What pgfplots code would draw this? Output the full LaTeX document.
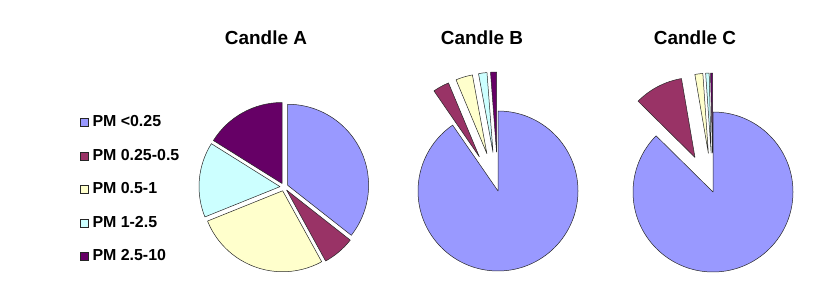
\documentclass[border=0pt]{standalone}
\usepackage{pgfplots}
\pgfplotsset{compat=1.18}
\usepackage{pgfplotstable}
\usepackage{fontspec}
\setmainfont{Liberation Sans}
\definecolor{c0}{HTML}{9999FF}
\definecolor{c1}{HTML}{993366}
\definecolor{c2}{HTML}{FFFFCC}
\definecolor{c3}{HTML}{CCFFFF}
\definecolor{c4}{HTML}{660066}

% share in percent, explode distance (bp)
\pgfplotstableread{
share explode
35.6 4
6.4 4
26.9 4
15.0 4
16.1 4
}\candleA
\pgfplotstableread{
share explode
90.4 0
3.3 39
3.4 39
1.7 39
1.2 39
}\candleB
\pgfplotstableread{
share explode
87.4 0
9.9 39
1.6 39
0.7 39
0.4 39
}\candleC

\newcommand\drawpie[2]{%
  \pgfplotstablegetrowsof{#1}%
  \pgfmathtruncatemacro\lastrow{\pgfplotsretval-1}%
  \gdef\cumsum{0}%
  \foreach \i in {0,...,\lastrow}{%
    \pgfplotstablegetelem{\i}{share}\of{#1}\let\sh\pgfplotsretval
    \pgfplotstablegetelem{\i}{explode}\of{#1}\let\ex\pgfplotsretval
    \pgfmathsetmacro\sa{90-3.6*\cumsum}%
    \pgfmathsetmacro\ea{90-3.6*(\cumsum+\sh)}%
    \pgfmathsetmacro\ma{(\sa+\ea)/2}%
    \pgfmathsetmacro\newsum{\cumsum+\sh}%
    \global\let\cumsum\newsum
    \filldraw[fill=c\i, draw=black!85, line width=0.5bp, line join=round]
      ([shift={(\ma:\ex bp)}]axis cs:0,0) -- ++(\sa:#2bp)
      arc[start angle=\sa, end angle=\ea, radius=#2bp] -- cycle;
  }%
}

\pgfplotsset{pieaxis/.style={
  anchor=center, width=200bp, height=200bp, scale only axis,
  xmin=-100, xmax=100, ymin=-100, ymax=100, hide axis, clip=false,
  title style={at={(0.5,0.5)}, anchor=center,
    font=\bfseries\fontsize{19}{21}\selectfont},
}}

\begin{document}
\begin{tikzpicture}
\path[use as bounding box] (0,0) rectangle (820bp,305bp);
\begin{axis}[pieaxis, at={(284bp,118bp)},
  title={Candle A}, title style={xshift=-18bp, yshift=143bp},
  legend image code/.code={\draw[#1] (0bp,-4bp) rectangle (8bp,4bp);},
  legend style={at={(-0.52,0.865)}, anchor=north west, draw=none, fill=none,
    inner sep=0pt, outer sep=0pt, row sep=16.5bp,
    font=\bfseries\fontsize{16}{18}\selectfont,
    nodes={inner sep=1bp, text height=12bp, text depth=3bp, anchor=west},
    /tikz/every odd column/.append style={column sep=3bp}},
  legend cell align=left]
\addlegendimage{fill=c0, draw=black!85, line width=0.5bp}
\addlegendentry{PM <0.25}
\addlegendimage{fill=c1, draw=black!85, line width=0.5bp}
\addlegendentry{PM 0.25-0.5}
\addlegendimage{fill=c2, draw=black!85, line width=0.5bp}
\addlegendentry{PM 0.5-1}
\addlegendimage{fill=c3, draw=black!85, line width=0.5bp}
\addlegendentry{PM 1-2.5}
\addlegendimage{fill=c4, draw=black!85, line width=0.5bp}
\addlegendentry{PM 2.5-10}
\pgfplotsextra{\drawpie{\candleA}{81}}
\end{axis}
\begin{axis}[pieaxis, at={(498bp,114bp)},
  title={Candle B}, title style={xshift=-16bp, yshift=147bp}]
\pgfplotsextra{\drawpie{\candleB}{80}}
\end{axis}
\begin{axis}[pieaxis, at={(713bp,113bp)},
  title={Candle C}, title style={xshift=-18bp, yshift=148bp}]
\pgfplotsextra{\drawpie{\candleC}{80}}
\end{axis}
\end{tikzpicture}
\end{document}
